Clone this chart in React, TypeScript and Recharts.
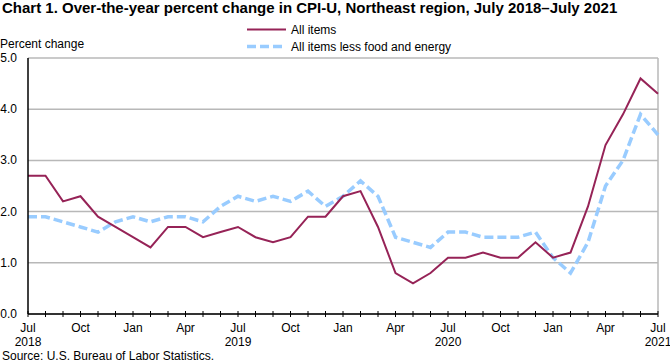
import { CartesianGrid, Line, LineChart, ReferenceLine, XAxis, YAxis } from 'recharts'

const MAROON = '#962357'
const LIGHT_BLUE = '#99CCFF'
const FONT = 'Arial, "Liberation Sans", sans-serif'

// Jul 2018 .. Jul 2021, monthly
const months = [
  '2018-07', '2018-08', '2018-09', '2018-10', '2018-11', '2018-12',
  '2019-01', '2019-02', '2019-03', '2019-04', '2019-05', '2019-06',
  '2019-07', '2019-08', '2019-09', '2019-10', '2019-11', '2019-12',
  '2020-01', '2020-02', '2020-03', '2020-04', '2020-05', '2020-06',
  '2020-07', '2020-08', '2020-09', '2020-10', '2020-11', '2020-12',
  '2021-01', '2021-02', '2021-03', '2021-04', '2021-05', '2021-06',
  '2021-07',
]

const allItems = [
  2.7, 2.7, 2.2, 2.3, 1.9, 1.7,
  1.5, 1.3, 1.7, 1.7, 1.5, 1.6,
  1.7, 1.5, 1.4, 1.5, 1.9, 1.9,
  2.3, 2.4, 1.7, 0.8, 0.6, 0.8,
  1.1, 1.1, 1.2, 1.1, 1.1, 1.4,
  1.1, 1.2, 2.1, 3.3, 3.9, 4.6,
  4.3,
]

const lessFoodEnergy = [
  1.9, 1.9, 1.8, 1.7, 1.6, 1.8,
  1.9, 1.8, 1.9, 1.9, 1.8, 2.1,
  2.3, 2.2, 2.3, 2.2, 2.4, 2.1,
  2.3, 2.6, 2.3, 1.5, 1.4, 1.3,
  1.6, 1.6, 1.5, 1.5, 1.5, 1.6,
  1.1, 0.8, 1.4, 2.5, 3.0, 3.9,
  3.5,
]

const monthNames: Record<string, string> = { '01': 'Jan', '04': 'Apr', '07': 'Jul', '10': 'Oct' }
const yTicks = [0, 1, 2, 3, 4, 5]

const data = months.map((m, i) => ({ month: m, all: allItems[i], core: lessFoodEnergy[i] }))

function MonthTick(props: any) {
  const { x, y, payload } = props
  const [year, mm] = String(payload.value).split('-')
  const label = monthNames[mm]
  return (
    <g>
      <line x1={x} x2={x} y1={y - 3} y2={y + 3} stroke="#000" strokeWidth={1} />
      {label && (
        <text x={x} y={y + 18} textAnchor="middle" fontSize={12} fontFamily={FONT} fill="#000">
          {label}
        </text>
      )}
      {mm === '07' && (
        <text x={x} y={y + 32} textAnchor="middle" fontSize={12} fontFamily={FONT} fill="#000">
          {year}
        </text>
      )}
    </g>
  )
}

function ValueTick(props: any) {
  const { y, payload } = props
  return (
    <text x={17} y={y + 4} textAnchor="end" fontSize={12} fontFamily={FONT} fill="#000">
      {Number(payload.value).toFixed(1)}
    </text>
  )
}

export default function App() {
  return (
    <div style={{ position: 'absolute', left: 0, top: 0, width: 670, height: 363, background: '#fff' }}>
      <LineChart width={670} height={363} data={data} margin={{ top: 58, right: 12, bottom: 0, left: 0 }}>
        <CartesianGrid horizontal vertical={false} stroke="#B8B8B8" strokeWidth={1.5} />
        <XAxis
          dataKey="month"
          interval={0}
          height={49}
          tickSize={0}
          tickMargin={0}
          tickLine={false}
          axisLine={{ stroke: '#000', strokeWidth: 1.5 }}
          tick={<MonthTick />}
        />
        <YAxis
          domain={[0, 5]}
          ticks={yTicks}
          width={28}
          tickLine={false}
          axisLine={{ stroke: '#000', strokeWidth: 1.5 }}
          tick={<ValueTick />}
        />
        <ReferenceLine x="2021-07" stroke="#B8B8B8" strokeWidth={1.5} />
        <Line
          dataKey="core"
          stroke={LIGHT_BLUE}
          strokeWidth={3.5}
          strokeDasharray="9 4"
          dot={false}
          isAnimationActive={false}
        />
        <Line dataKey="all" stroke={MAROON} strokeWidth={2} dot={false} isAnimationActive={false} />
      </LineChart>
      <svg
        width={670}
        height={363}
        style={{ position: 'absolute', left: 0, top: 0, pointerEvents: 'none' }}
        fontFamily={FONT}
      >
        <text x={2} y={13} fontSize={15} fontWeight="bold" fill="#000">
          Chart 1. Over-the-year percent change in CPI-U, Northeast region, July 2018–July 2021
        </text>
        <text x={0} y={48} fontSize={12} fill="#000">
          Percent change
        </text>
        <line x1={247} x2={286} y1={29.5} y2={29.5} stroke={MAROON} strokeWidth={2} />
        <text x={291} y={34} fontSize={12} fill="#000">
          All items
        </text>
        <line x1={247} x2={286} y1={46.5} y2={46.5} stroke={LIGHT_BLUE} strokeWidth={3.5} strokeDasharray="9 4" />
        <text x={291} y={50.5} fontSize={12} fill="#000">
          All items less food and energy
        </text>
        <text x={2} y={360} fontSize={12} fill="#000">
          Source: U.S. Bureau of Labor Statistics.
        </text>
      </svg>
    </div>
  )
}
